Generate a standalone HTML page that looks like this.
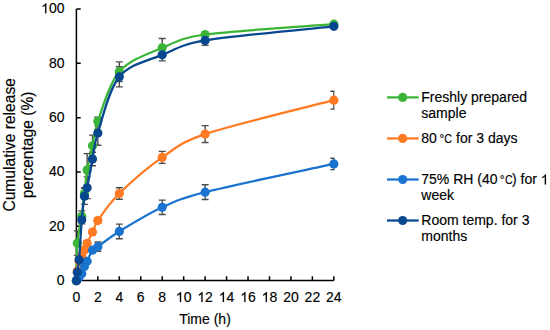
<!DOCTYPE html>
<html><head><meta charset="utf-8"><style>
html,body{margin:0;padding:0;background:#fff;}
body{width:550px;height:330px;overflow:hidden;}
svg{display:block;}
text{font-family:"Liberation Sans",sans-serif;fill:#000;stroke:#000;stroke-width:0.15px;}
</style></head><body>
<svg width="550" height="330" viewBox="0 0 550 330">
<rect width="550" height="330" fill="#fff"/>
<defs><clipPath id="pc"><rect x="0" y="0" width="334.6" height="330"/></clipPath></defs>

<path d="M76.40,9.00 V280.60 H333.85" fill="none" stroke="#000" stroke-width="1.5"/>
<path d="M76.40,280.70 h4.3 M76.40,226.36 h4.3 M76.40,172.02 h4.3 M76.40,117.68 h4.3 M76.40,63.34 h4.3 M76.40,9.00 h4.3 M76.40,280.60 V276.3 M97.85,280.60 V276.3 M119.31,280.60 V276.3 M140.76,280.60 V276.3 M162.22,280.60 V276.3 M183.67,280.60 V276.3 M205.12,280.60 V276.3 M226.58,280.60 V276.3 M248.03,280.60 V276.3 M269.49,280.60 V276.3 M290.94,280.60 V276.3 M312.39,280.60 V276.3 M333.85,280.60 V276.3 " stroke="#000" stroke-width="1.5" fill="none"/>
<text x="64.5" y="285.00" font-size="14" text-anchor="end">0</text>
<text x="64.5" y="230.66" font-size="14" text-anchor="end">20</text>
<text x="64.5" y="176.32" font-size="14" text-anchor="end">40</text>
<text x="64.5" y="121.98" font-size="14" text-anchor="end">60</text>
<text x="64.5" y="67.64" font-size="14" text-anchor="end">80</text>
<path d="M46.37,13.30 L45.14,13.30 L45.14,5.46 C44.84,5.74 44.45,6.02 43.95,6.31 C43.46,6.61 43.02,6.82 42.63,6.97 L42.63,5.78 C43.30,5.46 43.91,5.08 44.41,4.63 C44.91,4.19 45.28,3.74 45.49,3.28 L46.37,3.28 Z" fill="#000" stroke="#000" stroke-width="0.15"/>
<text x="48.93" y="13.30" font-size="14">00</text>
<text x="76.40" y="302" font-size="14" text-anchor="middle">0</text>
<text x="97.85" y="302" font-size="14" text-anchor="middle">2</text>
<text x="119.31" y="302" font-size="14" text-anchor="middle">4</text>
<text x="140.76" y="302" font-size="14" text-anchor="middle">6</text>
<text x="162.22" y="302" font-size="14" text-anchor="middle">8</text>
<path d="M181.11,302.00 L179.88,302.00 L179.88,294.16 C179.58,294.44 179.19,294.72 178.69,295.01 C178.20,295.31 177.76,295.52 177.37,295.67 L177.37,294.48 C178.04,294.16 178.64,293.78 179.15,293.33 C179.65,292.89 180.02,292.44 180.23,291.98 L181.11,291.98 Z" fill="#000" stroke="#000" stroke-width="0.15"/>
<text x="183.67" y="302" font-size="14">0</text>
<path d="M202.56,302.00 L201.33,302.00 L201.33,294.16 C201.04,294.44 200.64,294.72 200.14,295.01 C199.65,295.31 199.22,295.52 198.82,295.67 L198.82,294.48 C199.50,294.16 200.10,293.78 200.60,293.33 C201.11,292.89 201.47,292.44 201.68,291.98 L202.56,291.98 Z" fill="#000" stroke="#000" stroke-width="0.15"/>
<text x="205.12" y="302" font-size="14">2</text>
<path d="M224.02,302.00 L222.78,302.00 L222.78,294.16 C222.49,294.44 222.10,294.72 221.59,295.01 C221.10,295.31 220.67,295.52 220.28,295.67 L220.28,294.48 C220.95,294.16 221.55,293.78 222.06,293.33 C222.56,292.89 222.92,292.44 223.13,291.98 L224.02,291.98 Z" fill="#000" stroke="#000" stroke-width="0.15"/>
<text x="226.58" y="302" font-size="14">4</text>
<path d="M245.47,302.00 L244.24,302.00 L244.24,294.16 C243.94,294.44 243.55,294.72 243.05,295.01 C242.56,295.31 242.12,295.52 241.73,295.67 L241.73,294.48 C242.40,294.16 243.01,293.78 243.51,293.33 C244.01,292.89 244.38,292.44 244.59,291.98 L245.47,291.98 Z" fill="#000" stroke="#000" stroke-width="0.15"/>
<text x="248.03" y="302" font-size="14">6</text>
<path d="M266.92,302.00 L265.69,302.00 L265.69,294.16 C265.40,294.44 265.01,294.72 264.50,295.01 C264.01,295.31 263.58,295.52 263.19,295.67 L263.19,294.48 C263.86,294.16 264.46,293.78 264.96,293.33 C265.47,292.89 265.83,292.44 266.04,291.98 L266.92,291.98 Z" fill="#000" stroke="#000" stroke-width="0.15"/>
<text x="269.49" y="302" font-size="14">8</text>
<text x="290.94" y="302" font-size="14" text-anchor="middle">20</text>
<text x="312.39" y="302" font-size="14" text-anchor="middle">22</text>
<text x="333.85" y="302" font-size="14" text-anchor="middle">24</text>
<text x="205" y="324.4" font-size="14" text-anchor="middle">Time (h)</text>
<g transform="translate(0,144.85) rotate(-90)"><text x="0" y="15" font-size="15.6" text-anchor="middle">Cumulative release</text><text x="0" y="33.3" font-size="15.6" text-anchor="middle">percentage (%)</text></g>
<path d="M77.29,230.91 V255.36 M73.79,230.91 h7 M73.79,255.36 h7 M81.76,210.84 V221.71 M78.26,210.84 h7 M78.26,221.71 h7 M84.45,188.05 V198.92 M80.95,188.05 h7 M80.95,198.92 h7 M87.13,153.58 V186.18 M83.63,153.58 h7 M83.63,186.18 h7 M92.49,135.14 V156.33 M88.99,135.14 h7 M88.99,156.33 h7 M97.85,117.24 V125.39 M94.35,117.24 h7 M94.35,125.39 h7 M119.31,61.89 V81.45 M115.81,61.89 h7 M115.81,81.45 h7 M162.22,38.56 V57.03 M158.72,38.56 h7 M158.72,57.03 h7 M205.12,33.14 V35.86 M201.62,33.14 h7 M201.62,35.86 h7 M333.85,22.83 V25.55 M330.35,22.83 h7 M330.35,25.55 h7 " stroke="#4d4d4d" stroke-width="1.4" fill="none" clip-path="url(#pc)"/>
<path d="M77.29,269.72 V272.43 M73.79,269.72 h7 M73.79,272.43 h7 M79.08,259.95 V262.67 M75.58,259.95 h7 M75.58,262.67 h7 M81.76,253.71 V258.06 M78.26,253.71 h7 M78.26,258.06 h7 M84.45,247.20 V252.63 M80.95,247.20 h7 M80.95,252.63 h7 M87.13,240.69 V246.12 M83.63,240.69 h7 M83.63,246.12 h7 M92.49,229.29 V234.73 M88.99,229.29 h7 M88.99,234.73 h7 M97.85,217.90 V223.33 M94.35,217.90 h7 M94.35,223.33 h7 M119.31,187.78 V199.19 M115.81,187.78 h7 M115.81,199.19 h7 M162.22,151.42 V163.38 M158.72,151.42 h7 M158.72,163.38 h7 M205.12,125.65 V142.49 M201.62,125.65 h7 M201.62,142.49 h7 M333.85,91.19 V109.12 M330.35,91.19 h7 M330.35,109.12 h7 " stroke="#4d4d4d" stroke-width="1.4" fill="none" clip-path="url(#pc)"/>
<path d="M77.29,278.13 V279.76 M73.79,278.13 h7 M73.79,279.76 h7 M79.08,276.23 V277.86 M75.58,276.23 h7 M75.58,277.86 h7 M81.76,272.43 V275.15 M78.26,272.43 h7 M78.26,275.15 h7 M84.45,265.11 V267.82 M80.95,265.11 h7 M80.95,267.82 h7 M87.13,259.95 V262.67 M83.63,259.95 h7 M83.63,262.67 h7 M92.49,248.01 V252.36 M88.99,248.01 h7 M88.99,252.36 h7 M97.85,242.04 V251.28 M94.35,242.04 h7 M94.35,251.28 h7 M119.31,224.13 V238.80 M115.81,224.13 h7 M115.81,238.80 h7 M162.22,200.12 V214.52 M158.72,200.12 h7 M158.72,214.52 h7 M205.12,184.79 V199.46 M201.62,184.79 h7 M201.62,199.46 h7 M333.85,158.21 V169.62 M330.35,158.21 h7 M330.35,169.62 h7 " stroke="#4d4d4d" stroke-width="1.4" fill="none" clip-path="url(#pc)"/>
<path d="M77.29,270.80 V273.52 M73.79,270.80 h7 M73.79,273.52 h7 M79.08,257.51 V261.85 M75.58,257.51 h7 M75.58,261.85 h7 M81.76,215.72 V223.88 M78.26,215.72 h7 M78.26,223.88 h7 M84.45,188.05 V204.35 M80.95,188.05 h7 M80.95,204.35 h7 M87.13,176.92 V198.65 M83.63,176.92 h7 M83.63,198.65 h7 M92.49,152.24 V165.82 M88.99,152.24 h7 M88.99,165.82 h7 M97.85,120.76 V145.21 M94.35,120.76 h7 M94.35,145.21 h7 M119.31,66.77 V86.88 M115.81,66.77 h7 M115.81,86.88 h7 M162.22,48.87 V60.83 M158.72,48.87 h7 M158.72,60.83 h7 M205.12,35.58 V45.36 M201.62,35.58 h7 M201.62,45.36 h7 M333.85,24.73 V27.99 M330.35,24.73 h7 M330.35,27.99 h7 " stroke="#4d4d4d" stroke-width="1.4" fill="none" clip-path="url(#pc)"/>
<path d="M76.40,280.70 C76.55,274.44 76.40,253.87 77.29,243.13 C78.18,232.39 80.57,224.55 81.76,216.27 C82.96,208.00 83.55,201.22 84.45,193.48 C85.34,185.75 85.79,177.84 87.13,169.88 C88.47,161.92 90.70,153.83 92.49,145.74 C94.28,137.64 93.60,133.07 97.85,121.32 C102.32,108.97 108.58,83.92 119.31,71.67 C130.03,59.42 147.91,53.99 162.22,47.80 C176.52,41.60 182.87,37.56 205.12,34.50 C233.73,30.57 312.39,25.91 333.85,24.19" fill="none" stroke="#3ab436" stroke-width="2.25" stroke-linejoin="round"/>
<circle cx="76.40" cy="280.70" r="4.6" fill="#3ab436"/>
<circle cx="77.29" cy="243.13" r="4.6" fill="#3ab436"/>
<circle cx="81.76" cy="216.27" r="4.6" fill="#3ab436"/>
<circle cx="84.45" cy="193.48" r="4.6" fill="#3ab436"/>
<circle cx="87.13" cy="169.88" r="4.6" fill="#3ab436"/>
<circle cx="92.49" cy="145.74" r="4.6" fill="#3ab436"/>
<circle cx="97.85" cy="121.32" r="4.6" fill="#3ab436"/>
<circle cx="119.31" cy="71.67" r="4.6" fill="#3ab436"/>
<circle cx="162.22" cy="47.80" r="4.6" fill="#3ab436"/>
<circle cx="205.12" cy="34.50" r="4.6" fill="#3ab436"/>
<circle cx="333.85" cy="24.19" r="4.6" fill="#3ab436"/>
<path d="M76.40,280.70 C76.55,279.10 76.84,274.31 77.29,271.08 C77.74,267.84 78.34,263.84 79.08,261.31 C79.83,258.78 80.87,257.78 81.76,255.88 C82.66,253.98 83.55,251.99 84.45,249.91 C85.34,247.83 85.79,246.39 87.13,243.40 C88.47,240.42 90.70,235.81 92.49,232.01 C94.28,228.21 94.26,225.78 97.85,220.61 C102.32,214.19 108.58,204.02 119.31,193.48 C130.03,182.95 147.91,167.30 162.22,157.40 C176.52,147.50 181.96,141.80 205.12,134.07 C233.73,124.53 312.39,105.81 333.85,100.16" fill="none" stroke="#ff7a22" stroke-width="2.25" stroke-linejoin="round"/>
<circle cx="76.40" cy="280.70" r="4.6" fill="#ff7a22"/>
<circle cx="77.29" cy="271.08" r="4.6" fill="#ff7a22"/>
<circle cx="79.08" cy="261.31" r="4.6" fill="#ff7a22"/>
<circle cx="81.76" cy="255.88" r="4.6" fill="#ff7a22"/>
<circle cx="84.45" cy="249.91" r="4.6" fill="#ff7a22"/>
<circle cx="87.13" cy="243.40" r="4.6" fill="#ff7a22"/>
<circle cx="92.49" cy="232.01" r="4.6" fill="#ff7a22"/>
<circle cx="97.85" cy="220.61" r="4.6" fill="#ff7a22"/>
<circle cx="119.31" cy="193.48" r="4.6" fill="#ff7a22"/>
<circle cx="162.22" cy="157.40" r="4.6" fill="#ff7a22"/>
<circle cx="205.12" cy="134.07" r="4.6" fill="#ff7a22"/>
<circle cx="333.85" cy="100.16" r="4.6" fill="#ff7a22"/>
<path d="M76.40,280.70 C76.55,280.41 76.84,279.55 77.29,278.94 C77.74,278.33 78.34,277.90 79.08,277.04 C79.83,276.19 80.87,275.55 81.76,273.79 C82.66,272.03 83.55,268.54 84.45,266.46 C85.34,264.38 85.84,263.91 87.13,261.31 C88.47,258.60 90.70,252.63 92.49,250.19 C94.28,247.74 95.22,248.50 97.85,246.66 C102.32,243.54 108.58,238.02 119.31,231.47 C130.03,224.91 147.91,213.88 162.22,207.32 C176.52,200.76 183.06,197.71 205.12,192.13 C233.73,184.89 312.39,168.61 333.85,163.91" fill="none" stroke="#1a73cf" stroke-width="2.25" stroke-linejoin="round"/>
<circle cx="76.40" cy="280.70" r="4.6" fill="#1a73cf"/>
<circle cx="77.29" cy="278.94" r="4.6" fill="#1a73cf"/>
<circle cx="79.08" cy="277.04" r="4.6" fill="#1a73cf"/>
<circle cx="81.76" cy="273.79" r="4.6" fill="#1a73cf"/>
<circle cx="84.45" cy="266.46" r="4.6" fill="#1a73cf"/>
<circle cx="87.13" cy="261.31" r="4.6" fill="#1a73cf"/>
<circle cx="92.49" cy="250.19" r="4.6" fill="#1a73cf"/>
<circle cx="97.85" cy="246.66" r="4.6" fill="#1a73cf"/>
<circle cx="119.31" cy="231.47" r="4.6" fill="#1a73cf"/>
<circle cx="162.22" cy="207.32" r="4.6" fill="#1a73cf"/>
<circle cx="205.12" cy="192.13" r="4.6" fill="#1a73cf"/>
<circle cx="333.85" cy="163.91" r="4.6" fill="#1a73cf"/>
<path d="M76.40,280.70 C76.55,279.28 76.84,275.66 77.29,272.16 C77.74,268.66 78.55,265.96 79.08,259.68 C79.83,250.95 80.87,230.38 81.76,219.80 C82.66,209.22 83.55,201.53 84.45,196.20 C85.17,191.84 86.19,192.10 87.13,187.79 C88.47,181.59 90.70,168.16 92.49,159.03 C94.28,149.90 93.73,145.62 97.85,132.98 C102.32,119.28 108.58,89.85 119.31,76.82 C130.03,63.80 147.91,60.91 162.22,54.85 C176.52,48.79 182.80,44.18 205.12,40.47 C233.73,35.72 312.39,28.71 333.85,26.36" fill="none" stroke="#07478f" stroke-width="2.25" stroke-linejoin="round"/>
<circle cx="76.40" cy="280.70" r="4.6" fill="#07478f"/>
<circle cx="77.29" cy="272.16" r="4.6" fill="#07478f"/>
<circle cx="79.08" cy="259.68" r="4.6" fill="#07478f"/>
<circle cx="81.76" cy="219.80" r="4.6" fill="#07478f"/>
<circle cx="84.45" cy="196.20" r="4.6" fill="#07478f"/>
<circle cx="87.13" cy="187.79" r="4.6" fill="#07478f"/>
<circle cx="92.49" cy="159.03" r="4.6" fill="#07478f"/>
<circle cx="97.85" cy="132.98" r="4.6" fill="#07478f"/>
<circle cx="119.31" cy="76.82" r="4.6" fill="#07478f"/>
<circle cx="162.22" cy="54.85" r="4.6" fill="#07478f"/>
<circle cx="205.12" cy="40.47" r="4.6" fill="#07478f"/>
<circle cx="333.85" cy="26.36" r="4.6" fill="#07478f"/>
<path d="M387,97.40 H418.7" stroke="#3ab436" stroke-width="2.25"/>
<circle cx="402.7" cy="97.40" r="4.6" fill="#3ab436"/>
<text x="421.3" y="102.30" font-size="14">Freshly prepared</text>
<text x="421.3" y="117.80" font-size="14">sample</text>
<path d="M387,138.45 H418.7" stroke="#ff7a22" stroke-width="2.25"/>
<circle cx="402.7" cy="138.45" r="4.6" fill="#ff7a22"/>
<path d="M387,179.50 H418.7" stroke="#1a73cf" stroke-width="2.25"/>
<circle cx="402.7" cy="179.50" r="4.6" fill="#1a73cf"/>
<path d="M387,220.50 H418.7" stroke="#07478f" stroke-width="2.25"/>
<circle cx="402.7" cy="220.50" r="4.6" fill="#07478f"/>
<text x="421.3" y="225.40" font-size="14">Room temp. for 3</text>
<text x="421.3" y="240.90" font-size="14">months</text>
<text x="421.3" y="143.35" font-size="14">80</text>
<text x="439.50" y="143.35" font-size="12">°</text><text transform="translate(444.30,143.35) scale(0.88,1)" font-size="12.2">C</text>
<text x="456.00" y="143.35" font-size="14">for 3 days</text>
<text x="421.3" y="184.40" font-size="14">75% RH (40</text>
<text x="499.70" y="184.40" font-size="12">°</text><text transform="translate(505.10,184.40) scale(0.88,1)" font-size="12.2">C</text>
<text x="512.00" y="184.40" font-size="14">) for </text>
<path d="M546.01,184.40 L544.77,184.40 L544.77,176.56 C544.48,176.84 544.09,177.12 543.58,177.41 C543.09,177.71 542.66,177.92 542.27,178.07 L542.27,176.88 C542.94,176.56 543.54,176.18 544.05,175.73 C544.55,175.29 544.91,174.84 545.12,174.38 L546.01,174.38 Z" fill="#000" stroke="#000" stroke-width="0.15"/>
<text x="421.3" y="199.90" font-size="14">week</text>
</svg></body></html>
